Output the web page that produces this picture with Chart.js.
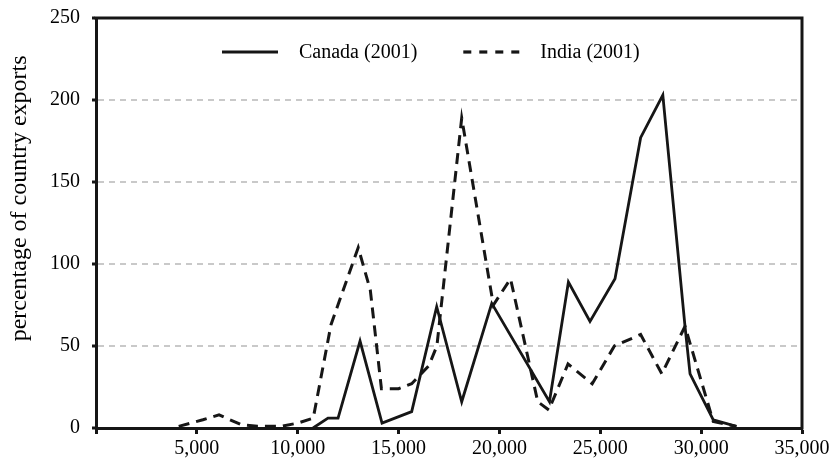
<!DOCTYPE html>
<html>
<head>
<meta charset="utf-8">
<script src="https://cdn.jsdelivr.net/npm/chart.js@4/dist/chart.umd.min.js"></script>
<style>
  html, body { margin: 0; padding: 0; background: #ffffff; }
  #c { display: block; }
</style>
</head>
<body>
<canvas id="c" width="834" height="469"></canvas>
<script>
// Share of country exports by product income level
const canadaX = [10760, 11500, 12000, 13090, 14180, 15650, 16890, 18130, 19620, 22480, 23420, 24490, 25730, 27000, 28100, 29200, 29450, 30600, 31750];
const canadaY = [0, 6, 6, 53, 3, 10, 74, 16, 76, 16, 89, 65, 91, 177, 203, 62, 33, 5, 1];

const indiaX = [4100, 5300, 6100, 7200, 8000, 9200, 10000, 10770, 11650, 13000, 13600, 14150, 15000, 15650, 16500, 16900, 18130, 19700, 20550, 21900, 22450, 23400, 24600, 25700, 27000, 28050, 29200, 30600, 31750];
const indiaY = [1, 5, 8, 2, 1, 1, 3, 6, 63, 110, 84, 24, 24, 27, 38, 50, 189, 75, 91, 16, 11, 39, 27, 50, 57, 33, 62, 4, 1];

const seriesLabels = ['Canada (2001)', 'India (2001)'];
const yAxisTitle = 'percentage of country exports';

const xTicks = [0, 5000, 10000, 15000, 20000, 25000, 30000, 35000];
const xTickLabels = ['', '5,000', '10,000', '15,000', '20,000', '25,000', '30,000', '35,000'];
const yTicks = [0, 50, 100, 150, 200, 250];
const yTickLabels = ['0', '50', '100', '150', '200', '250'];

const INK = '#161616';
const SERIF = '"Liberation Serif", "Times New Roman", serif';

const toPoints = (xs, ys) => xs.map((x, i) => ({ x: x, y: ys[i] }));

// Frame on top and right, axis title, legend sample lines inside the plot
const framePlugin = {
  id: 'frame',
  afterDraw(chart) {
    const { ctx, chartArea: a } = chart;
    ctx.save();
    ctx.strokeStyle = INK;
    ctx.lineWidth = 3;
    ctx.setLineDash([]);
    ctx.beginPath();
    ctx.moveTo(a.left - 1.5, a.top);
    ctx.lineTo(a.right, a.top);
    ctx.lineTo(a.right, a.bottom + 1.5);
    ctx.stroke();

    // vertical axis title
    ctx.save();
    ctx.translate(20, a.top + (a.bottom - a.top) * 0.44);
    ctx.rotate(-Math.PI / 2);
    ctx.font = '24px ' + SERIF;
    ctx.fillStyle = '#000';
    ctx.textAlign = 'center';
    ctx.textBaseline = 'middle';
    ctx.fillText(yAxisTitle, 0, 0);
    ctx.restore();

    // legend
    const y = a.top + 34;
    let x = a.left + 126;
    ctx.font = '20px ' + SERIF;
    ctx.fillStyle = '#000';
    ctx.textAlign = 'left';
    ctx.textBaseline = 'middle';
    const dashes = [[], [8, 8]];
    chart.data.datasets.forEach((ds, i) => {
      ctx.strokeStyle = INK;
      ctx.lineWidth = 3.2;
      ctx.setLineDash(dashes[i]);
      ctx.beginPath();
      ctx.moveTo(x, y);
      ctx.lineTo(x + 56, y);
      ctx.stroke();
      ctx.setLineDash([]);
      x += 56 + 21;
      ctx.fillText(ds.label, x, y + 1);
      x += ctx.measureText(ds.label).width + 46;
    });
    ctx.restore();
  }
};

new Chart(document.getElementById('c'), {
  type: 'line',
  data: {
    datasets: [
      {
        label: seriesLabels[0],
        data: toPoints(canadaX, canadaY),
        borderColor: INK,
        borderWidth: 2.8,
        borderDash: [],
        pointRadius: 0,
        tension: 0,
        fill: false
      },
      {
        label: seriesLabels[1],
        data: toPoints(indiaX, indiaY),
        borderColor: INK,
        borderWidth: 3,
        borderDash: [11, 7],
        pointRadius: 0,
        tension: 0,
        fill: false
      }
    ]
  },
  options: {
    responsive: false,
    devicePixelRatio: 1,
    animation: false,
    layout: { padding: { top: 18, right: 32, left: 0, bottom: 0 } },
    plugins: {
      legend: { display: false },
      tooltip: { enabled: false }
    },
    scales: {
      x: {
        type: 'linear',
        min: 0,
        max: 35000,
        afterBuildTicks: (s) => { s.ticks = xTicks.map(v => ({ value: v })); },
        afterFit: (s) => { s.height = 41; },
        ticks: {
          autoSkip: false,
          maxRotation: 0,
          padding: 3,
          color: '#000',
          font: { family: SERIF, size: 20 },
          callback: (v, i) => xTickLabels[i]
        },
        grid: {
          drawOnChartArea: false,
          drawTicks: true,
          tickLength: 6,
          tickWidth: 3,
          tickColor: INK
        },
        border: { display: true, color: INK, width: 3 }
      },
      y: {
        min: 0,
        max: 250,
        afterBuildTicks: (s) => { s.ticks = yTicks.map(v => ({ value: v })); },
        afterFit: (s) => { s.width = 96; s.paddingTop = 0; s.paddingBottom = 0; },
        ticks: {
          autoSkip: false,
          padding: 12,
          color: '#000',
          font: { family: SERIF, size: 20 },
          callback: (v, i) => yTickLabels[i]
        },
        grid: {
          drawOnChartArea: true,
          drawTicks: true,
          tickLength: 4,
          tickWidth: 3,
          tickColor: INK,
          tickBorderDash: [],
          lineWidth: 2,
          color: (ctx) => (ctx.tick && (ctx.tick.value === 0 || ctx.tick.value === 250)) ? 'rgba(0,0,0,0)' : '#c9c9c9'
        },
        border: { display: true, color: INK, width: 3, dash: [6, 5] },
        title: { display: false }
      }
    }
  },
  plugins: [framePlugin]
});
</script>
</body>
</html>
